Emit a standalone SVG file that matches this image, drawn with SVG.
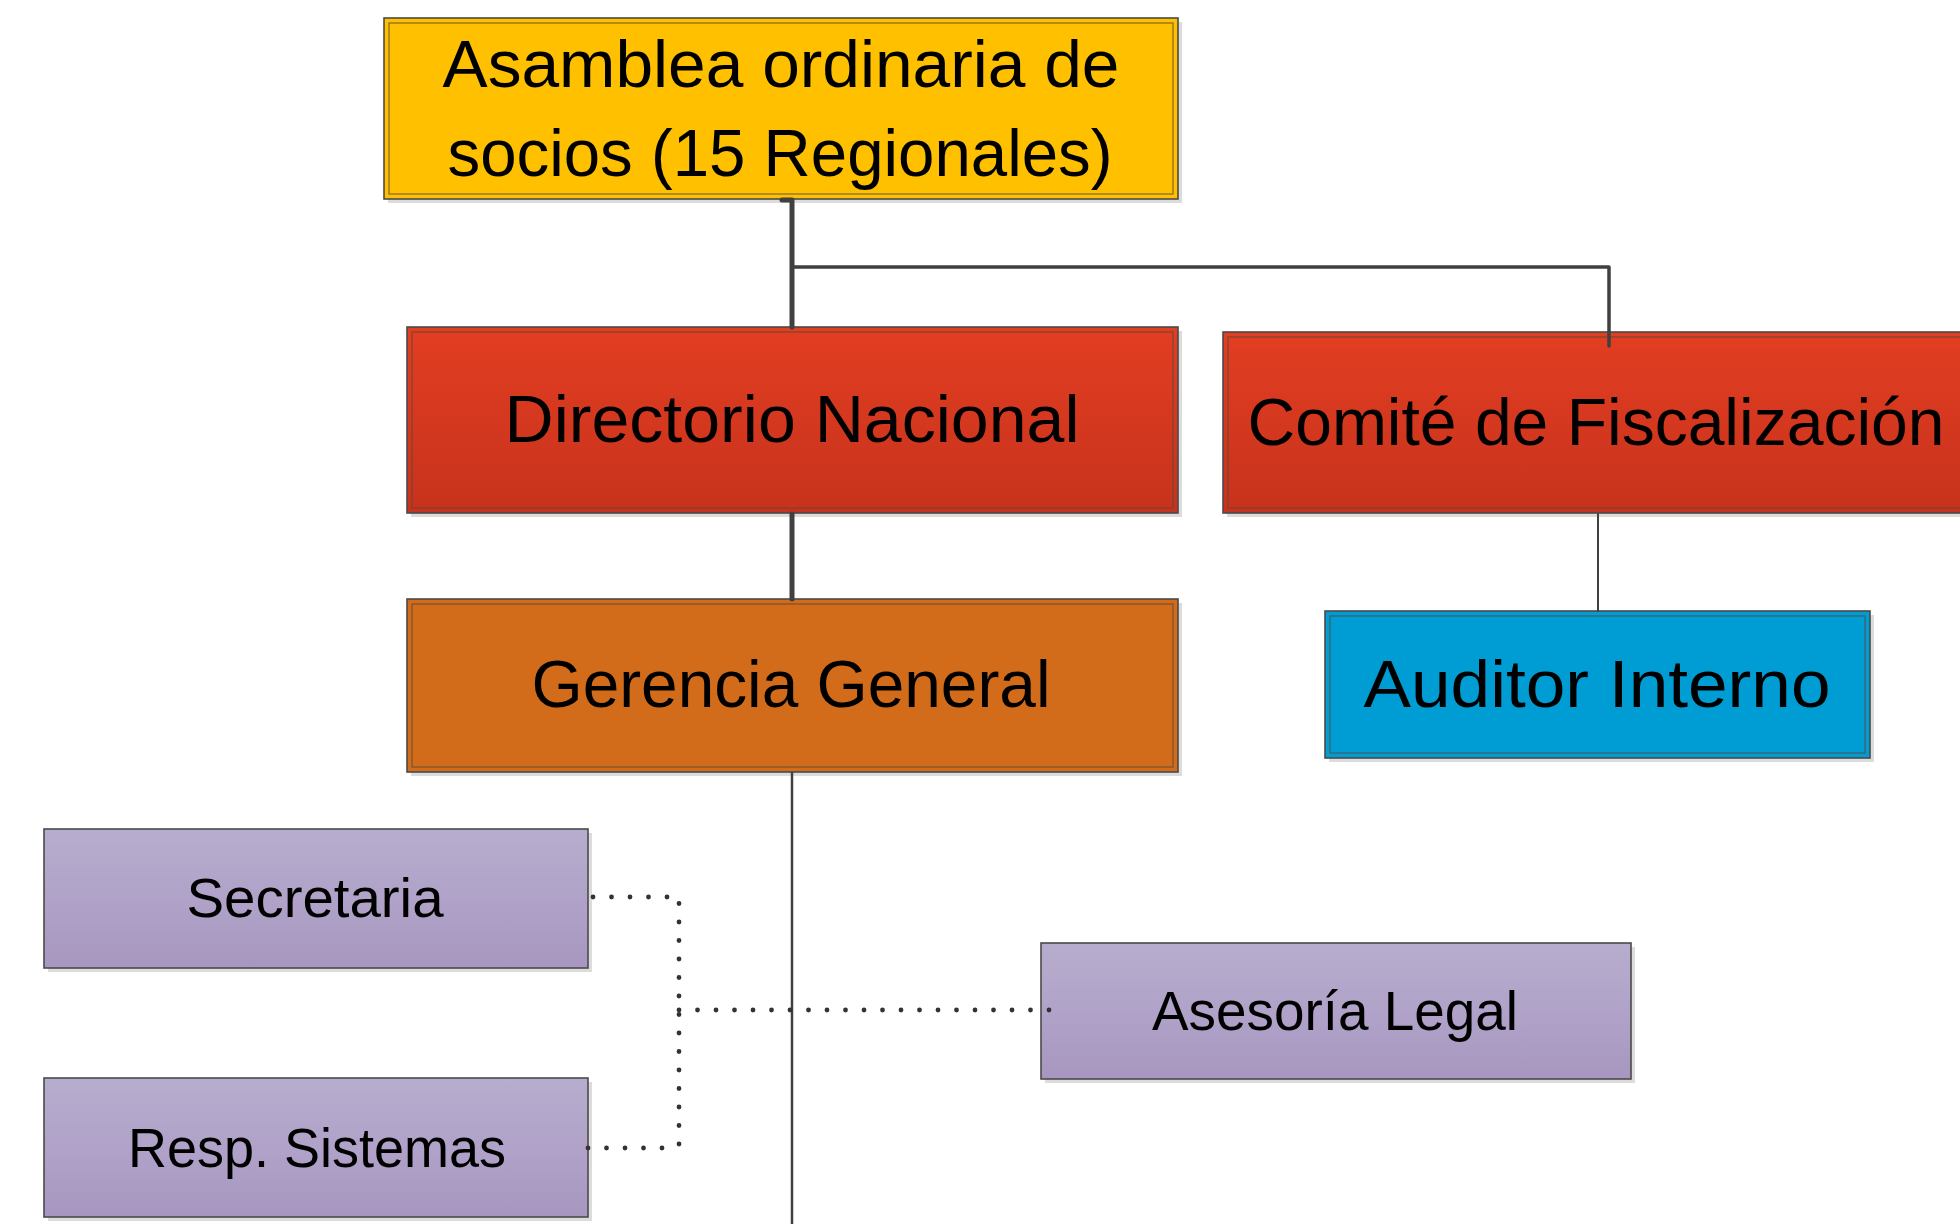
<svg xmlns="http://www.w3.org/2000/svg" width="1960" height="1224" viewBox="0 0 1960 1224">
<defs>
<linearGradient id="gRed" x1="0" y1="0" x2="0" y2="1">
<stop offset="0" stop-color="#E23E22"/><stop offset="1" stop-color="#C7321C"/>
</linearGradient>
<linearGradient id="gPurple" x1="0" y1="0" x2="0" y2="1">
<stop offset="0" stop-color="#B7ADCE"/><stop offset="0.5" stop-color="#B0A2C8"/><stop offset="1" stop-color="#A797C0"/>
</linearGradient>
</defs>
<style>
.shadow{fill:#DCDCDC}
.outer{stroke:#4A4A4A;stroke-width:1.6}
.inner{fill:none;stroke:#5A4A3A;stroke-opacity:0.65;stroke-width:1.4}
.t{font-family:"Liberation Sans",Arial,sans-serif;fill:#000;text-anchor:middle}
.big{font-size:67px}
.small{font-size:55px}
.solid{fill:none;stroke:#404040;stroke-linecap:round;stroke-linejoin:round}
.dot{fill:none;stroke:#333333;stroke-width:4.8;stroke-linecap:round;stroke-dasharray:0 18.5}
</style>

<g id="asamblea">
<rect class="shadow" x="388" y="22" width="794" height="181"/>
<rect class="outer" x="384" y="18" width="794" height="181" fill="#FFC000"/>
<rect class="inner" x="389" y="23" width="784" height="171"/>
<text class="t big" x="781" y="87" textLength="677" lengthAdjust="spacingAndGlyphs">Asamblea ordinaria de</text>
<text class="t big" x="780" y="176" textLength="665" lengthAdjust="spacingAndGlyphs">socios (15 Regionales)</text>
</g>

<g id="directorio">
<rect class="shadow" x="411" y="331" width="771" height="186"/>
<rect class="outer" x="407" y="327" width="771" height="186" fill="url(#gRed)"/>
<rect class="inner" x="412" y="332" width="761" height="176"/>
<text class="t big" x="792" y="442" textLength="575" lengthAdjust="spacingAndGlyphs">Directorio Nacional</text>
</g>

<g id="comite">
<rect class="shadow" x="1227" y="336" width="760" height="181"/>
<rect class="outer" x="1223" y="332" width="760" height="181" fill="url(#gRed)"/>
<rect class="inner" x="1228" y="337" width="750" height="171"/>
<text class="t big" x="1596" y="445" textLength="697" lengthAdjust="spacingAndGlyphs">Comité de Fiscalización</text>
</g>

<g id="gerencia">
<rect class="shadow" x="411" y="603" width="771" height="173"/>
<rect class="outer" x="407" y="599" width="771" height="173" fill="#D26C1A"/>
<rect class="inner" x="412" y="604" width="761" height="163"/>
<text class="t big" x="791" y="707" textLength="519" lengthAdjust="spacingAndGlyphs">Gerencia General</text>
</g>

<g id="auditor">
<rect class="shadow" x="1329" y="615" width="545" height="147"/>
<rect class="outer" x="1325" y="611" width="545" height="147" fill="#009CD4"/>
<rect class="inner" x="1330" y="616" width="535" height="137" stroke="#205070"/>
<text class="t big" x="1597" y="707" textLength="467" lengthAdjust="spacingAndGlyphs">Auditor Interno</text>
</g>

<g id="secretaria">
<rect class="shadow" x="48" y="833" width="544" height="139"/>
<rect class="outer" x="44" y="829" width="544" height="139" fill="url(#gPurple)" stroke-width="1.3"/>
<text class="t small" x="315" y="917" textLength="257" lengthAdjust="spacingAndGlyphs">Secretaria</text>
</g>

<g id="sistemas">
<rect class="shadow" x="48" y="1082" width="544" height="139"/>
<rect class="outer" x="44" y="1078" width="544" height="139" fill="url(#gPurple)" stroke-width="1.3"/>
<text class="t small" x="317" y="1167" textLength="378" lengthAdjust="spacingAndGlyphs">Resp. Sistemas</text>
</g>

<g id="asesoria">
<rect class="shadow" x="1045" y="947" width="590" height="136"/>
<rect class="outer" x="1041" y="943" width="590" height="136" fill="url(#gPurple)" stroke-width="1.3"/>
<text class="t small" x="1335" y="1030" textLength="366" lengthAdjust="spacingAndGlyphs">Asesoría Legal</text>
</g>

<g id="connectors">
<path class="solid" d="M782 200 H792 V327" stroke-width="5"/>
<path class="solid" d="M792 267 H1609 V346" stroke-width="3.5"/>
<path class="solid" d="M792 514 V599" stroke-width="5"/>
<path class="solid" d="M792 773 V1224" stroke-width="2.5"/>
<path class="solid" d="M1598 514 V611" stroke-width="2"/>
<path class="dot" d="M593 897 H679 V1148"/>
<path class="dot" d="M588 1148 H679"/>
<path class="dot" d="M679 1010 H1050"/>
</g>
</svg>
